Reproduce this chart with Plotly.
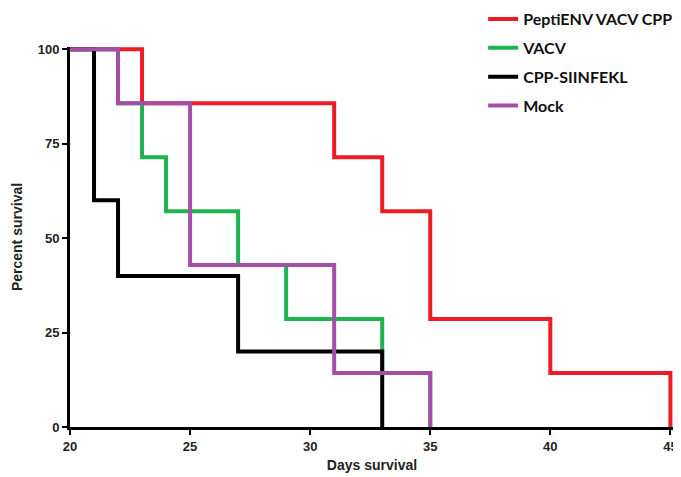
import plotly.graph_objects as go

# Survival data (Kaplan-Meier steps)
red_days = [20, 23, 31, 33, 35, 40, 45]
red_surv = [100, 85.7, 71.4, 57.1, 28.6, 14.3, 0]

green_days = [20, 22, 23, 24, 27, 29, 33, 35]
green_surv = [100, 85.7, 71.4, 57.1, 42.9, 28.6, 14.3, 0]

black_days = [20, 21, 22, 27, 33]
black_surv = [100, 60, 40, 20, 0]

purple_days = [20, 22, 25, 31, 35]
purple_surv = [100, 85.7, 42.9, 14.3, 0]

names = ["PeptiENV VACV CPP", "VACV", "CPP-SIINFEKL", "Mock"]
colors = ["#ED1C24", "#1DB34F", "#000000", "#A54EA5"]
series = [(red_days, red_surv), (green_days, green_surv),
          (black_days, black_surv), (purple_days, purple_surv)]

x_ticks = [20, 25, 30, 35, 40, 45]
y_ticks = [0, 25, 50, 75, 100]

fig = go.Figure()
for i, ((d, s), n, c) in enumerate(zip(series, names, colors)):
    fig.add_trace(go.Scatter(
        x=d, y=s, mode="lines", name=n, legendgroup=str(i),
        line=dict(color=c, width=4, shape="hv"),
    ))

# the page body has an 8px default margin, so the figure is sized to fit
fig.update_layout(
    width=673, height=469,
    margin=dict(l=62, r=7, t=39, b=50, autoexpand=False),
    paper_bgcolor="white", plot_bgcolor="white",
    font=dict(family="Liberation Sans, Arial, sans-serif", color="#222222"),
    showlegend=True,
    legend=dict(
        x=0.684, y=1.118, xanchor="left", yanchor="top",
        font=dict(family="Lato, sans-serif", size=16, color="#111111", weight="bold"),
        tracegroupgap=5, bgcolor="rgba(0,0,0,0)",
    ),
    xaxis=dict(
        range=[20, 45.15], tickvals=x_ticks, showgrid=False, zeroline=False,
        showline=True, linecolor="black", linewidth=3,
        ticks="outside", ticklen=5, tickwidth=2, tickcolor="black",
        tickfont=dict(size=13, weight="bold", color="#222222"),
        title=dict(text="Days survival", font=dict(size=14, weight="bold", color="#222222"), standoff=8),
    ),
    yaxis=dict(
        range=[0, 100.6], tickvals=y_ticks, showgrid=False, zeroline=False,
        showline=True, linecolor="black", linewidth=3,
        ticks="outside", ticklen=5, tickwidth=2, tickcolor="black",
        tickfont=dict(size=13, weight="bold", color="#222222"),
        title=dict(text="Percent survival", font=dict(size=14, weight="bold", color="#222222"), standoff=12),
    ),
)

fig.write_html("out.html")
